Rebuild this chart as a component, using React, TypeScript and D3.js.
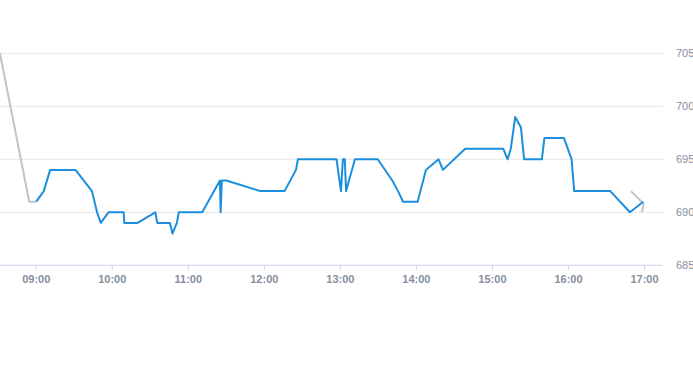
import React from "react";
import * as d3 from "d3";

const W = 693;
const H = 365;

// Main session (blue)
const sessionTimes = [
  "09:00", "09:06", "09:11", "09:31", "09:44", "09:48", "09:51", "09:57", "10:09", "10:09.5",
  "10:20", "10:34", "10:35.5", "10:45.5", "10:47.5", "10:51", "10:52.5", "11:11", "11:25", "11:25.5",
  "11:26.5", "11:30", "11:57", "12:16", "12:25", "12:26.5", "12:57", "13:00.5", "13:02", "13:03.5",
  "13:04.5", "13:11.5", "13:29.5", "13:41", "13:45.5", "13:49.5", "14:01", "14:07.5", "14:17.5", "14:21",
  "14:38.5", "15:08.5", "15:12", "15:14.5", "15:18", "15:22.5", "15:25", "15:39", "15:41", "15:56.5",
  "16:02.5", "16:04.5", "16:33", "16:48.5", "16:59",
];
const sessionValues = [
  691, 692, 694, 694, 692, 690, 689, 690, 690, 689,
  689, 690, 689, 689, 688, 689, 690, 690, 693, 690,
  693, 693, 692, 692, 694, 695, 695, 692, 695, 695,
  692, 695, 695, 693, 692, 691, 691, 694, 695, 694,
  696, 696, 695, 696, 699, 698, 695, 695, 697, 697,
  695, 692, 692, 690, 691,
];

// Extended hours (grey)
const preTimes = ["08:31.4", "08:54.5", "09:00"];
const preValues = [705, 691, 691];
const postTimes = ["16:49.3", "16:59.3", "16:58"];
const postValues = [692, 690.8, 690];

const xTicks = ["09:00", "10:00", "11:00", "12:00", "13:00", "14:00", "15:00", "16:00", "17:00"];
const yTicks = [685, 690, 695, 700, 705];

function toDate(s: string): Date {
  const [h, m] = s.split(":");
  const mins = parseFloat(m);
  const d = new Date(2024, 0, 2, parseInt(h, 10), 0, 0, 0);
  return new Date(d.getTime() + mins * 60000);
}

export default function App() {
  const plotLeft = 0;
  const plotRight = 663;
  const plotTop = 53.3;
  const plotBottom = 265.3;

  const x = d3
    .scaleTime()
    .domain([toDate("08:31.43"), toDate("17:14.6")])
    .range([plotLeft, plotRight]);
  const y = d3.scaleLinear().domain([685, 705]).range([plotBottom, plotTop]);

  const line = d3
    .line<[Date, number]>()
    .x((d) => x(d[0]))
    .y((d) => y(d[1]));

  const session: [Date, number][] = sessionTimes.map((t, i) => [toDate(t), sessionValues[i]]);
  const pre: [Date, number][] = preTimes.map((t, i) => [toDate(t), preValues[i]]);
  const post: [Date, number][] = postTimes.map((t, i) => [toDate(t), postValues[i]]);

  const labelColor = "#858f9e";

  return (
    <svg
      width={W}
      height={H}
      style={{ position: "fixed", left: 0, top: 0, background: "#fff", fontFamily: "'Liberation Sans', Arial, sans-serif" }}
    >
      <defs>
        <clipPath id="plot">
          <rect x={plotLeft} y={0} width={plotRight - plotLeft} height={plotBottom + 10} />
        </clipPath>
      </defs>
      {yTicks.slice(1).map((v) => (
        <line key={v} x1={plotLeft} x2={plotRight} y1={y(v)} y2={y(v)} stroke="#e6e6e6" strokeWidth={1} />
      ))}
      <line x1={plotLeft} x2={plotRight} y1={plotBottom} y2={plotBottom} stroke="#ccd6eb" strokeWidth={1} />
      {xTicks.map((t) => (
        <g key={t} transform={`translate(${x(toDate(t))},0)`}>
          <line y1={plotBottom} y2={plotBottom + 5} stroke="#ccd6eb" strokeWidth={1} />
          <text
            y={plotBottom + 18}
            textAnchor="middle"
            fontSize={11}
            fontWeight="bold"
            fill={labelColor}
          >
            {t}
          </text>
        </g>
      ))}
      {yTicks.map((v) => (
        <text key={v} x={676} y={y(v) + 4} fontSize={11} fill={labelColor}>
          {v}
        </text>
      ))}
      <g clipPath="url(#plot)" fill="none" strokeLinejoin="round">
        <path d={line(pre) || ""} stroke="#bdc5cd" strokeWidth={2} />
        <path d={line(post) || ""} stroke="#bdc5cd" strokeWidth={2} />
        <path d={line(session) || ""} stroke="#1b8fde" strokeWidth={2} />
      </g>
    </svg>
  );
}
